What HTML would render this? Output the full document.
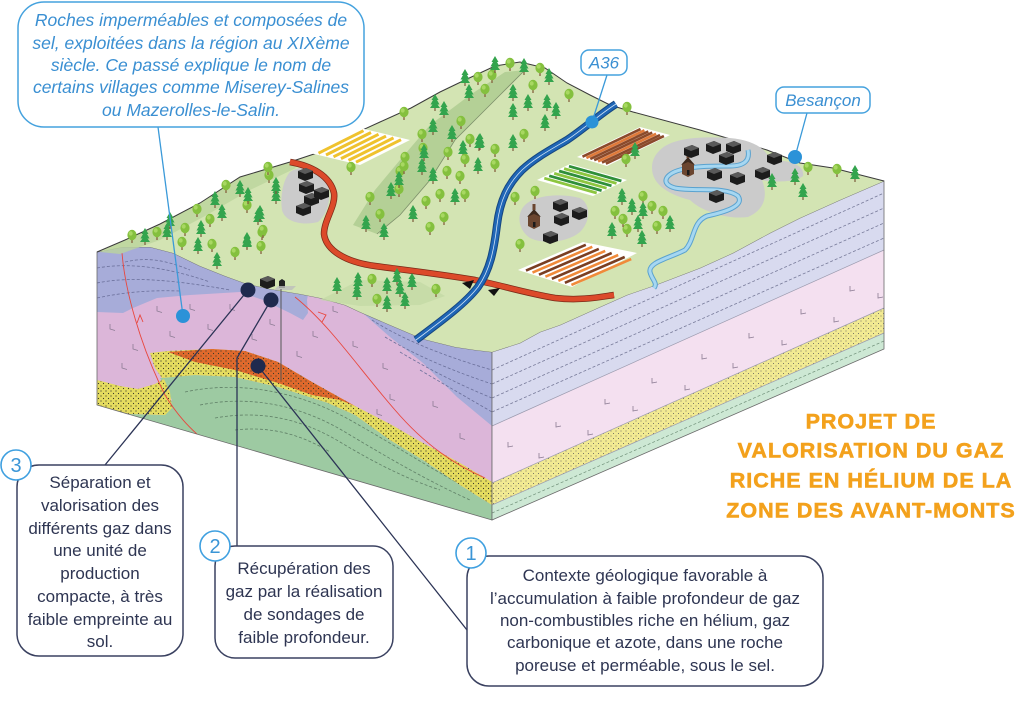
<!DOCTYPE html>
<html><head><meta charset="utf-8"><style>
html,body{margin:0;padding:0;background:#fff;}
svg{display:block;}
.t{font-family:"Liberation Sans",Arial,sans-serif;}
</style></head><body>
<svg width="1024" height="711" viewBox="0 0 1024 711" xmlns="http://www.w3.org/2000/svg">
<defs>
<pattern id="dots" width="5" height="5" patternUnits="userSpaceOnUse">
<circle cx="1" cy="1" r="0.6" fill="#3a3a2a"/><circle cx="3.5" cy="3.5" r="0.6" fill="#3a3a2a"/>
</pattern>
<pattern id="dots2" width="5" height="5" patternUnits="userSpaceOnUse">
<circle cx="1" cy="1" r="0.5" fill="#555"/><circle cx="3.5" cy="3.5" r="0.5" fill="#555"/>
</pattern>
<clipPath id="cf"><polygon points="97,252 123,247 150,247 173,253 200,266 225,276 247,284 270,289 300,294 320,298 345,305 360,312 390,325 423,339 455,347 475,350 492,352 492,520 97,405"/></clipPath>
<g id="d"><rect x="-0.7" y="1.5" width="1.4" height="5.5" fill="#8a6a45"/><ellipse cx="0" cy="-1" rx="4.6" ry="5.2" fill="#84c03e"/><ellipse cx="-1.3" cy="-2.6" rx="2" ry="2.2" fill="#a8d862"/></g>
<g id="c"><rect x="-0.6" y="3.5" width="1.2" height="3.5" fill="#7a5a3a"/><path d="M0,-10 L3.5,-4 L2,-4 L4.5,0.5 L2.5,0.5 L5,4 L-5,4 L-2.5,0.5 L-4.5,0.5 L-2,-4 L-3.5,-4Z" fill="#33a44d"/></g>
<g id="b"><path d="M0,3 L8,0 L15,3 L15,10 L7,13 L0,10Z" fill="#1c1c1c"/><path d="M0,3 L8,0 L15,3 L7,6Z" fill="#5a5a5a"/></g>
<g id="ch"><path d="M0,6 L0,16 L6,19 L12,16 L12,6 L6,3Z" fill="#6b4630"/><path d="M-1,7 L6,-1 L13,7 L6,4Z" fill="#3d2a1e"/><rect x="4.5" y="-6" width="3" height="6" fill="#6b4630"/><rect x="5" y="12" width="2.5" height="5" fill="#1b1b1b"/></g>
</defs>

<!-- FRONT FACE -->
<g clip-path="url(#cf)">
<rect x="90" y="230" width="410" height="300" fill="#dcb6d9"/>
<polygon points="160,378 195,375 235,377 278,387 328,403 355,415 390,440 423,460 460,485 492,505 500,505 500,540 90,540 90,416 130,414 165,415 172,400" fill="#9dcaa2"/>
<g fill="none" stroke="#5f7f66" stroke-width="0.8" stroke-dasharray="3,2">
<path d="M185,392 C240,380 300,392 350,420 S440,475 490,500"/>
<path d="M200,405 C250,395 300,405 345,432 S430,482 470,500"/>
<path d="M215,418 C260,410 300,418 340,442 S410,480 440,490"/>
<path d="M235,430 C270,426 300,434 330,452"/>
</g>
<g>
<polygon points="150,353 168,351 212,349 245,351 278,362 312,382 355,406 390,424 423,443 460,463 492,482 500,482 500,506 492,505 460,485 423,460 390,440 355,415 328,403 278,387 235,377 195,375 162,378 155,368" fill="#e5dc5f"/>
<polygon points="90,379 97,380 120,386 138,389 155,384 164,379 170,392 172,408 165,415 130,414 97,407 90,407" fill="#e5dc5f"/>
<polygon points="150,353 168,351 212,349 245,351 278,362 312,382 355,406 390,424 423,443 460,463 492,482 500,482 500,506 492,505 460,485 423,460 390,440 355,415 328,403 278,387 235,377 195,375 162,378 155,368" fill="url(#dots)"/>
<polygon points="90,379 97,380 120,386 138,389 155,384 164,379 170,392 172,408 165,415 130,414 97,407 90,407" fill="url(#dots)"/>
</g>
<polygon points="168,352 212,349 245,351 278,362 312,382 355,406 340,400 312,395 278,383 235,370 195,362" fill="#e0692c"/>
<polygon points="168,352 212,349 245,351 278,362 312,382 355,406 340,400 312,395 278,383 235,370 195,362" fill="url(#dots)"/>
<polygon points="90,235 320,235 307,300 308,313 303,320 290,313 263,300 240,292 190,295 157,298 133,308 123,313 97,312 90,312" fill="#a7acd9"/>
<polygon points="340,292 500,292 500,426 492,426 457,397 423,363 390,337 365,315 350,305" fill="#a7acd9"/>
<g fill="none" stroke="#6a6f9a" stroke-width="0.8" stroke-dasharray="3,2">
<path d="M97,268 C130,262 170,268 210,282"/>
<path d="M97,283 C130,276 175,280 230,290"/>
<path d="M97,298 C125,292 150,290 180,291"/>
<path d="M125,262 C150,256 170,262 190,270"/>
<path d="M372,320 C400,338 440,355 492,370"/>
<path d="M385,337 C415,355 450,370 492,384"/>
<path d="M400,352 C430,370 460,385 492,398"/>
<path d="M420,370 C445,385 468,398 492,412"/>
</g>
<g fill="none" stroke="#8b7b93" stroke-width="0.8">
<path d="M157,306 v5 l5,1.5"/><path d="M190,304 v5 l5,1.5"/><path d="M170,331 v5 l5,1.5"/><path d="M208,324 v5 l5,1.5"/><path d="M230,304 v5 l5,1.5"/><path d="M133,344 v5 l5,1.5"/><path d="M122,363 v5 l5,1.5"/><path d="M110,324 v5 l5,1.5"/><path d="M270,319 v5 l5,1.5"/><path d="M252,334 v5 l5,1.5"/><path d="M297,351 v5 l5,1.5"/><path d="M313,331 v5 l5,1.5"/><path d="M333,306 v5 l5,1.5"/><path d="M353,341 v5 l5,1.5"/><path d="M383,363 v5 l5,1.5"/><path d="M390,394 v5 l5,1.5"/><path d="M433,401 v5 l5,1.5"/><path d="M460,433 v5 l5,1.5"/><path d="M377,409 v5 l5,1.5"/>
</g>
<g fill="none" stroke="#e8473e" stroke-width="0.9">
<path d="M122,253 C125,290 140,345 165,395 C180,420 195,432 200,437"/>
<path d="M295,297 C330,325 360,370 395,410 C425,445 455,465 485,478"/>
<path d="M137,323 L140,315 L143,322"/>
<path d="M318,312 L326,315 L322,322"/>
</g>
</g>
<polygon points="97,252 123,247 150,247 173,253 200,266 225,276 247,284 270,289 300,294 320,298 345,305 360,312 390,325 423,339 455,347 475,350 492,352 492,520 97,405" fill="none" stroke="#6a6a6a" stroke-width="0.8"/>

<!-- RIGHT FACE -->
<polygon points="492,352 520,343 540,332 560,325 600,307 627,295 653,286 700,268 733,253 770,233 800,218 840,200 884,181 884,250 492,426" fill="#d8daef"/>
<polygon points="492,426 884,250 884,308 492,483" fill="#f4e0f0"/>
<polygon points="492,483 884,308 884,333 492,505" fill="#f2ea92"/>
<polygon points="492,483 884,308 884,333 492,505" fill="url(#dots2)"/>
<polygon points="492,505 884,333 884,349 492,520" fill="#cde8d4"/>
<g fill="none" stroke="#777a99" stroke-width="0.8" stroke-dasharray="3,2">
<path d="M492,370 L884,193"/><path d="M492,384 L884,208"/><path d="M492,398 L884,223"/><path d="M492,412 L884,238"/>
</g>
<path d="M492,513 L884,341" fill="none" stroke="#6f8f78" stroke-width="0.7" stroke-dasharray="3,2"/>
<g fill="none" stroke="#8b7b93" stroke-width="0.8">
<path d="M508,442 v5 l5,-1"/><path d="M539,453 v5 l5,-1"/><path d="M556,422 v5 l5,-1"/><path d="M588,430 v5 l5,-1"/><path d="M605,399 v5 l5,-1"/><path d="M633,406 v5 l5,-1"/><path d="M652,378 v5 l5,-1"/><path d="M685,385 v5 l5,-1"/><path d="M702,354 v5 l5,-1"/><path d="M733,363 v5 l5,-1"/><path d="M749,333 v5 l5,-1"/><path d="M782,340 v5 l5,-1"/><path d="M801,309 v5 l5,-1"/><path d="M834,317 v5 l5,-1"/><path d="M850,286 v5 l5,-1"/><path d="M878,293 v5 l5,-1"/>
</g>
<g fill="none" stroke="#9a9aae" stroke-width="0.7">
<path d="M492,426 L884,250"/><path d="M492,483 L884,308"/><path d="M492,505 L884,333"/>
</g>
<polygon points="492,352 520,343 540,332 560,325 600,307 627,295 653,286 700,268 733,253 770,233 800,218 840,200 884,181 884,349 492,520" fill="none" stroke="#6a6a6a" stroke-width="0.8"/>

<!-- TOP SURFACE -->
<polygon points="97,252 123,247 150,247 173,253 200,266 225,276 247,284 270,289 300,294 320,298 345,305 360,312 390,325 423,339 455,347 475,350 492,352 520,343 540,332 560,325 600,307 627,295 653,286 700,268 733,253 770,233 800,218 840,200 884,181 833,168 800,163 767,150 700,130 633,112 610,105 590,95 567,83 545,68 520,62 495,66 465,80 440,92 411,108 380,122 345,138 320,152 290,162 240,177 200,203 160,224 125,240" fill="#d3e4b3"/>
<polygon points="100,252 160,224 200,203 240,177 290,162 296,168 250,190 205,216 160,240 120,254" fill="#bcd59c" opacity="0.8"/>
<polygon points="353,225 375,190 400,160 430,125 470,95 505,72 525,70 500,95 475,120 455,140 430,180 400,215 377,234" fill="#b4d096"/>
<path d="M377,234 L400,215 430,180 455,140 475,120 500,95 525,70" fill="none" stroke="#7c8f6a" stroke-width="0.8"/>
<polygon points="320,300 360,280 420,282 445,296 420,305 360,306" fill="#c2d9a4" opacity="0.7"/>
<path d="M97,252 L125,240 160,224 200,203 240,177 290,162 320,152 345,138 380,122 411,108 440,92 465,80 495,66 520,62 545,68 567,83 590,95 610,105 633,112 700,130 767,150 800,163 833,168 884,181" fill="none" stroke="#3a3a3a" stroke-width="1"/>

<!-- fields -->
<polygon points="310,153 360,128 410,140 360,165" fill="#fff"/>
<g stroke="#efc22e" stroke-width="3" stroke-linecap="butt">
<line x1="318.5" y1="153.2" x2="363.5" y2="130.7"/><line x1="326" y1="155" x2="371" y2="132.5"/><line x1="333.5" y1="156.8" x2="378.5" y2="134.3"/><line x1="341" y1="158.6" x2="386" y2="136.1"/><line x1="348.5" y1="160.4" x2="393.5" y2="137.9"/><line x1="356" y1="162.2" x2="401" y2="139.7"/>
</g>
<polygon points="577,157 640,127 670,135 607,166" fill="#fff"/>
<g stroke-width="2.6">
<line x1="582.5" y1="156.7" x2="640.5" y2="129.1" stroke="#8b4a2b"/><line x1="586.4" y1="157.9" x2="644.4" y2="130.3" stroke="#e07a3a"/><line x1="590.3" y1="159" x2="648.3" y2="131.4" stroke="#8b4a2b"/><line x1="594.2" y1="160.2" x2="652.2" y2="132.6" stroke="#8b4a2b"/><line x1="598.1" y1="161.4" x2="656.1" y2="133.8" stroke="#e07a3a"/><line x1="602" y1="162.6" x2="660" y2="135" stroke="#8b4a2b"/><line x1="605.9" y1="163.7" x2="663.9" y2="136.1" stroke="#8b4a2b"/>
</g>
<polygon points="570,164 627,180 593,196 537,180" fill="#fff"/>
<g stroke-width="2.8">
<line x1="569" y1="166.2" x2="621.4" y2="181" stroke="#2f8f3a"/><line x1="564.1" y1="168.6" x2="616.5" y2="183.4" stroke="#8dc63f"/><line x1="559.1" y1="171" x2="611.5" y2="185.8" stroke="#2f8f3a"/><line x1="554.2" y1="173.4" x2="606.6" y2="188.2" stroke="#8dc63f"/><line x1="549.2" y1="175.8" x2="601.6" y2="190.6" stroke="#2f8f3a"/><line x1="544.3" y1="178.2" x2="596.7" y2="193" stroke="#8dc63f"/>
</g>
<polygon points="518,270 583,242 637,253 572,287" fill="#fff"/>
<g stroke-width="2.6">
<line x1="526" y1="270.6" x2="585.8" y2="244.8" stroke="#7a3e22"/><line x1="532.5" y1="272.6" x2="592.3" y2="246.8" stroke="#f08a3a"/><line x1="539" y1="274.7" x2="598.8" y2="248.9" stroke="#7a3e22"/><line x1="545.4" y1="276.7" x2="605.2" y2="250.9" stroke="#f08a3a"/><line x1="551.9" y1="278.8" x2="611.7" y2="253" stroke="#7a3e22"/><line x1="558.4" y1="280.8" x2="618.2" y2="255" stroke="#f08a3a"/><line x1="564.9" y1="282.8" x2="624.7" y2="257" stroke="#7a3e22"/><line x1="571.4" y1="284.9" x2="631.2" y2="259.1" stroke="#f08a3a"/>
</g>

<!-- villages grey -->
<path d="M290,172 C300,165 318,166 326,178 C332,192 330,212 318,222 C302,226 285,222 282,210 C280,196 283,180 290,172Z" fill="#cbcbcb"/>
<path d="M525,205 C535,195 560,193 580,198 C592,205 590,222 580,232 C568,242 545,245 530,238 C518,230 516,214 525,205Z" fill="#cbcbcb"/>
<path d="M660,150 C672,138 700,136 730,138 C752,140 766,148 770,160 C790,160 805,165 803,176 C795,183 770,182 762,180 C768,195 765,210 748,217 C725,220 700,210 690,200 C670,195 652,185 652,168 C652,160 655,155 660,150Z" fill="#cbcbcb"/>

<!-- river -->
<path d="M748,150 C750,160 745,166 730,166 C712,166 695,166 680,170 C665,174 660,184 675,188 C695,192 725,186 738,196 C745,206 725,212 707,216 C692,222 695,240 685,250 C670,258 648,262 650,272 C652,280 658,283 654,288" fill="none" stroke="#5aa2cf" stroke-width="5"/>
<path d="M748,150 C750,160 745,166 730,166 C712,166 695,166 680,170 C665,174 660,184 675,188 C695,192 725,186 738,196 C745,206 725,212 707,216 C692,222 695,240 685,250 C670,258 648,262 650,272 C652,280 658,283 654,288" fill="none" stroke="#a6d7f1" stroke-width="3"/>

<!-- red road -->
<path d="M290,162 C312,166 330,176 334,193 C336,206 324,220 324,234 C326,250 345,262 375,266 C405,270 440,274 475,280 C500,285 525,293 555,298 C580,301 600,297 614,295" fill="none" stroke="#7a2a18" stroke-width="6.5"/>
<path d="M290,162 C312,166 330,176 334,193 C336,206 324,220 324,234 C326,250 345,262 375,266 C405,270 440,274 475,280 C500,285 525,293 555,298 C580,301 600,297 614,295" fill="none" stroke="#dc4a2a" stroke-width="5"/>
<!-- highway -->
<path d="M616,104 C600,114 585,128 567,140 C550,150 535,158 522,170 C508,184 500,200 497,225 C494,250 490,270 478,287 C465,304 440,322 416,340" fill="none" stroke="#16467f" stroke-width="8"/>
<path d="M616,104 C600,114 585,128 567,140 C550,150 535,158 522,170 C508,184 500,200 497,225 C494,250 490,270 478,287 C465,304 440,322 416,340" fill="none" stroke="#1f66b6" stroke-width="6"/>
<path d="M616,104 C600,114 585,128 567,140 C550,150 535,158 522,170 C508,184 500,200 497,225 C494,250 490,270 478,287 C465,304 440,322 416,340" fill="none" stroke="#cfe3f5" stroke-width="0.8"/>
<path d="M462,283 L474,280 L470,289Z M488,290 L500,288 L494,296Z" fill="#111"/>

<!-- buildings -->
<use href="#b" x="298" y="168"/><use href="#b" x="299" y="181"/><use href="#b" x="304" y="193"/><use href="#b" x="314" y="187"/><use href="#b" x="296" y="203"/>
<use href="#ch" x="528" y="210"/><use href="#b" x="553" y="199"/><use href="#b" x="554" y="213"/><use href="#b" x="572" y="207"/><use href="#b" x="543" y="231"/>
<use href="#ch" x="682" y="158"/><use href="#b" x="684" y="145"/><use href="#b" x="706" y="141"/><use href="#b" x="726" y="141"/><use href="#b" x="719" y="152"/><use href="#b" x="707" y="168"/><use href="#b" x="730" y="172"/><use href="#b" x="709" y="190"/><use href="#b" x="755" y="167"/><use href="#b" x="767" y="152"/>
<use href="#b" x="260" y="276"/>
<path d="M279,288 L285,288 L285,281 L282,279 L279,281Z" fill="#222"/>
<polygon points="274,290 292,290 296,286 278,286" fill="#bdbdbd" opacity="0.8"/>

<!-- trees -->
<g>
<use href="#d" x="132" y="236"/><use href="#c" x="145" y="238"/><use href="#d" x="157" y="233"/><use href="#c" x="167" y="233"/><use href="#d" x="182" y="243"/><use href="#c" x="198" y="247"/><use href="#d" x="212" y="245"/><use href="#c" x="217" y="262"/><use href="#d" x="235" y="253"/><use href="#c" x="247" y="242"/><use href="#d" x="262" y="233"/><use href="#c" x="170" y="222"/><use href="#d" x="185" y="229"/><use href="#c" x="201" y="230"/><use href="#d" x="210" y="220"/><use href="#c" x="222" y="214"/><use href="#d" x="226" y="186"/><use href="#c" x="240" y="190"/><use href="#d" x="247" y="206"/><use href="#c" x="258" y="218"/><use href="#d" x="261" y="247"/><use href="#d" x="269" y="176"/><use href="#c" x="276" y="197"/><use href="#c" x="215" y="201"/><use href="#d" x="197" y="210"/>
<use href="#d" x="268" y="168"/><use href="#c" x="276" y="187"/><use href="#c" x="248" y="197"/><use href="#c" x="260" y="215"/><use href="#c" x="247" y="243"/><use href="#d" x="263" y="231"/>
<use href="#d" x="351" y="168"/><use href="#d" x="370" y="198"/><use href="#d" x="380" y="215"/><use href="#c" x="366" y="225"/><use href="#c" x="384" y="233"/><use href="#c" x="391" y="192"/><use href="#d" x="400" y="172"/><use href="#d" x="399" y="190"/><use href="#d" x="405" y="158"/><use href="#c" x="422" y="168"/><use href="#c" x="433" y="177"/><use href="#d" x="423" y="149"/><use href="#d" x="448" y="153"/><use href="#d" x="447" y="172"/><use href="#d" x="460" y="177"/><use href="#c" x="463" y="150"/><use href="#c" x="478" y="167"/><use href="#c" x="480" y="143"/><use href="#d" x="470" y="140"/><use href="#d" x="495" y="150"/><use href="#c" x="413" y="215"/><use href="#d" x="426" y="202"/><use href="#d" x="440" y="195"/><use href="#d" x="444" y="218"/><use href="#c" x="455" y="198"/><use href="#d" x="465" y="195"/><use href="#d" x="430" y="228"/>
<use href="#c" x="337" y="287"/><use href="#c" x="358" y="282"/><use href="#d" x="372" y="280"/><use href="#c" x="387" y="287"/><use href="#c" x="397" y="278"/><use href="#c" x="400" y="290"/><use href="#c" x="412" y="283"/><use href="#d" x="436" y="290"/><use href="#d" x="377" y="300"/><use href="#c" x="405" y="302"/><use href="#c" x="357" y="293"/><use href="#c" x="387" y="305"/>
<use href="#d" x="404" y="113"/><use href="#c" x="435" y="104"/><use href="#c" x="444" y="111"/><use href="#c" x="465" y="79"/><use href="#d" x="478" y="78"/><use href="#d" x="492" y="76"/><use href="#c" x="495" y="66"/><use href="#d" x="510" y="64"/><use href="#c" x="524" y="68"/><use href="#d" x="540" y="69"/><use href="#c" x="549" y="78"/><use href="#d" x="569" y="95"/><use href="#c" x="469" y="94"/><use href="#d" x="485" y="90"/><use href="#c" x="513" y="94"/><use href="#d" x="533" y="86"/><use href="#c" x="528" y="104"/><use href="#c" x="547" y="104"/><use href="#c" x="556" y="112"/><use href="#c" x="513" y="113"/><use href="#c" x="545" y="124"/><use href="#d" x="524" y="135"/><use href="#c" x="513" y="144"/><use href="#d" x="495" y="165"/><use href="#c" x="479" y="144"/><use href="#d" x="465" y="160"/><use href="#d" x="461" y="122"/><use href="#c" x="452" y="135"/><use href="#c" x="433" y="128"/><use href="#d" x="422" y="135"/><use href="#c" x="424" y="154"/><use href="#d" x="404" y="167"/><use href="#c" x="399" y="181"/>
<use href="#d" x="627" y="108"/><use href="#c" x="635" y="152"/><use href="#d" x="626" y="160"/><use href="#d" x="535" y="192"/><use href="#d" x="515" y="198"/><use href="#d" x="520" y="245"/><use href="#c" x="622" y="198"/><use href="#d" x="643" y="197"/><use href="#d" x="615" y="212"/><use href="#c" x="632" y="208"/><use href="#c" x="643" y="212"/><use href="#d" x="652" y="207"/><use href="#d" x="663" y="212"/><use href="#c" x="670" y="225"/><use href="#d" x="657" y="227"/><use href="#c" x="638" y="225"/><use href="#d" x="627" y="230"/><use href="#c" x="612" y="232"/><use href="#c" x="642" y="240"/><use href="#d" x="623" y="220"/><use href="#c" x="772" y="183"/><use href="#c" x="795" y="178"/><use href="#c" x="803" y="193"/><use href="#d" x="808" y="168"/><use href="#d" x="837" y="170"/><use href="#c" x="855" y="175"/>
</g>

<!-- navy connectors -->
<g stroke="#2b3355" stroke-width="1.3" fill="none">
<path d="M248,290 L105,465"/>
<path d="M271,300 L237,358 L237,546"/>
<path d="M258,366 L467,630"/>
</g>
<line x1="281" y1="289" x2="281" y2="380" stroke="#555" stroke-width="1"/>
<circle cx="248" cy="290" r="7.5" fill="#1f2a4e"/>
<circle cx="271" cy="300" r="7.5" fill="#1f2a4e"/>
<circle cx="258" cy="366" r="7.5" fill="#1f2a4e"/>

<!-- blue pointers -->
<g stroke="#3b9ad9" stroke-width="1.3">
<line x1="158" y1="127" x2="183" y2="316"/>
<line x1="607" y1="75" x2="592" y2="122"/>
<line x1="807" y1="113" x2="795" y2="157"/>
</g>
<circle cx="183" cy="316" r="7" fill="#2b92d8"/>
<circle cx="592" cy="122" r="6.5" fill="#2b92d8"/>
<circle cx="795" cy="157" r="7" fill="#2b92d8"/>

<!-- top callout -->
<rect x="18" y="2" width="346" height="125" rx="26" fill="#fff" stroke="#45a2de" stroke-width="1.5"/>
<g class="t" font-size="17.5" font-style="italic" fill="#3a8fd2" text-anchor="middle">
<text x="191" y="26">Roches imperméables et composées de</text>
<text x="191" y="49">sel, exploitées dans la région au XIXème</text>
<text x="191" y="71">siècle. Ce passé explique le nom de</text>
<text x="191" y="93">certains villages comme Miserey-Salines</text>
<text x="191" y="116">ou Mazerolles-le-Salin.</text>
</g>
<rect x="581" y="50" width="46" height="25" rx="8" fill="#fff" stroke="#45a2de" stroke-width="1.5"/>
<text class="t" x="604" y="68.5" font-size="17" font-style="italic" fill="#3a8fd2" text-anchor="middle">A36</text>
<rect x="776" y="87" width="94" height="26" rx="8" fill="#fff" stroke="#45a2de" stroke-width="1.5"/>
<text class="t" x="823" y="106" font-size="17" font-style="italic" fill="#3a8fd2" text-anchor="middle">Besançon</text>

<!-- title -->
<g class="t" font-size="21.5" font-weight="bold" fill="#f3a11c" stroke="#f3a11c" stroke-width="0.6" text-anchor="middle" letter-spacing="1">
<text x="871" y="428.5">PROJET DE</text>
<text x="871" y="457.5">VALORISATION DU GAZ</text>
<text x="871" y="487.5">RICHE EN HÉLIUM DE LA</text>
<text x="871" y="517.5">ZONE DES AVANT-MONTS</text>
</g>

<!-- callout boxes -->
<rect x="17" y="465" width="166" height="191" rx="22" fill="#fff" stroke="#3a4160" stroke-width="1.5"/>
<g class="t" font-size="17" fill="#2e3552" text-anchor="middle">
<text x="100" y="488">Séparation et</text>
<text x="100" y="511">valorisation des</text>
<text x="100" y="534">différents gaz dans</text>
<text x="100" y="556">une unité de</text>
<text x="100" y="579">production</text>
<text x="100" y="602">compacte, à très</text>
<text x="100" y="625">faible empreinte au</text>
<text x="100" y="647">sol.</text>
</g>
<rect x="215" y="546" width="178" height="112" rx="20" fill="#fff" stroke="#3a4160" stroke-width="1.5"/>
<g class="t" font-size="17" fill="#2e3552" text-anchor="middle">
<text x="304" y="574">Récupération des</text>
<text x="304" y="597">gaz par la réalisation</text>
<text x="304" y="620">de sondages de</text>
<text x="304" y="643">faible profondeur.</text>
</g>
<rect x="467" y="556" width="356" height="130" rx="22" fill="#fff" stroke="#3a4160" stroke-width="1.5"/>
<g class="t" font-size="17" fill="#2e3552" text-anchor="middle">
<text x="645" y="581">Contexte géologique favorable à</text>
<text x="645" y="604">l’accumulation à faible profondeur de gaz</text>
<text x="645" y="626">non-combustibles riche en hélium, gaz</text>
<text x="645" y="648">carbonique et azote, dans une roche</text>
<text x="645" y="671">poreuse et perméable, sous le sel.</text>
</g>

<!-- number badges -->
<g fill="#fff" stroke="#3fa0e0" stroke-width="1.6">
<circle cx="16" cy="465" r="15"/><circle cx="215" cy="546" r="15"/><circle cx="471" cy="553" r="15"/>
</g>
<g class="t" font-size="20" fill="#3a95d6" text-anchor="middle">
<text x="16" y="472">3</text><text x="215" y="553">2</text><text x="471" y="560">1</text>
</g>
</svg>
</body></html>
